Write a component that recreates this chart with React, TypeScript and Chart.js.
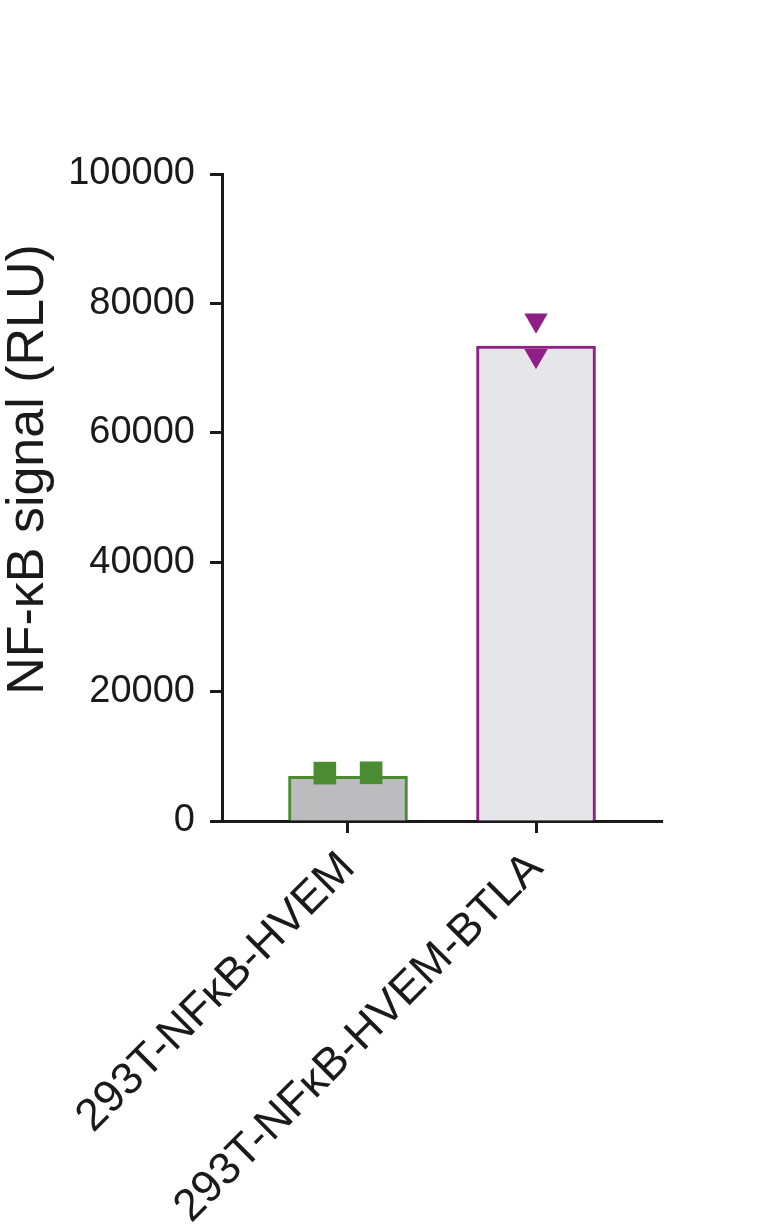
import React, { useEffect, useRef } from 'react';
import { Chart, registerables } from 'chart.js';

Chart.register(...registerables);

// categories and values
const categories = ['293T-NFκB-HVEM', '293T-NFκB-HVEM-BTLA'];
const barMeans = [6900, 73400];
const hvemReplicates = [7400, 7450];
const btlaReplicates = [77400, 71900];
const hvemJitter = [-0.123, 0.123];
const btlaJitter = [0, 0];
const yTicks = [0, 20000, 40000, 60000, 80000, 100000];
const yTitle = 'NF-κB signal (RLU)';

const FONT = "'Liberation Sans', Arial, Helvetica, sans-serif";
const INK = '#1a1a1a';
const GREEN = '#4b8c32';
const PURPLE = '#8f1f87';

// y title sits a bit above the axis centre in the original, so draw it by hand
const yTitlePlugin = {
  id: 'yTitle',
  afterDraw(chart: any) {
    const { ctx, chartArea } = chart;
    const cy = (chartArea.top + chartArea.bottom) / 2 - 28;
    ctx.save();
    ctx.translate(chartArea.left - 179, cy);
    ctx.rotate(-Math.PI / 2);
    ctx.font = `52px ${FONT}`;
    ctx.fillStyle = INK;
    ctx.textAlign = 'center';
    ctx.textBaseline = 'alphabetic';
    ctx.fillText(yTitle, 0, 0);
    ctx.restore();
  },
};

const App = () => {
  const canvasRef = useRef<HTMLCanvasElement>(null);

  useEffect(() => {
    document.body.style.margin = '0';
    const ctx = canvasRef.current?.getContext('2d');
    if (!ctx) return;

    const chart = new Chart(ctx, {
      type: 'bar',
      data: {
        datasets: [
          {
            type: 'scatter',
            label: categories[0],
            data: hvemReplicates.map((y, i) => ({ x: 0 + hvemJitter[i], y })),
            pointStyle: 'rect',
            pointRadius: 16,
            pointBackgroundColor: GREEN,
            pointBorderColor: GREEN,
            pointBorderWidth: 0,
            order: 1,
          },
          {
            type: 'scatter',
            label: categories[1],
            data: btlaReplicates.map((y, i) => ({ x: 1 + btlaJitter[i], y })),
            pointStyle: 'triangle',
            rotation: 180,
            pointRadius: 13.5,
            pointBackgroundColor: PURPLE,
            pointBorderColor: PURPLE,
            pointBorderWidth: 0,
            order: 1,
          },
          {
            type: 'bar',
            label: 'mean',
            data: barMeans.map((y, i) => ({ x: i, y })),
            backgroundColor: ['#bcbbbd', '#e6e5e7'],
            borderColor: [GREEN, PURPLE],
            borderWidth: 3,
            borderSkipped: 'start',
            barThickness: 119,
            order: 2,
          },
        ],
      } as any,
      options: {
        responsive: false,
        animation: false,
        layout: { padding: { top: 174, right: 109, left: 0, bottom: 0 } },
        plugins: {
          legend: { display: false },
          tooltip: { enabled: false },
        },
        scales: {
          x: {
            type: 'linear',
            min: -0.67,
            max: 1.67,
            offset: false,
            afterBuildTicks: (scale: any) => {
              scale.ticks = categories.map((_, i) => ({ value: i }));
            },
            afterFit: (scale: any) => {
              scale.height = 1225 - 821;
            },
            grid: {
              display: true,
              offset: false,
              drawOnChartArea: false,
              drawTicks: true,
              tickLength: 12,
              tickWidth: 3,
              tickColor: INK,
            },
            border: { display: true, color: INK, width: 3 },
            ticks: {
              autoSkip: false,
              minRotation: 45,
              maxRotation: 45,
              padding: 9,
              color: INK,
              font: { family: FONT, size: 45 },
              callback: (v: any) => categories[Number(v)] ?? '',
            },
          },
          y: {
            type: 'linear',
            min: 0,
            max: 100000,
            afterBuildTicks: (scale: any) => {
              scale.ticks = yTicks.map((value) => ({ value }));
            },
            afterFit: (scale: any) => {
              scale.width = 222;
            },
            grid: {
              display: true,
              drawOnChartArea: false,
              drawTicks: true,
              tickLength: 12,
              tickWidth: 3,
              tickColor: INK,
            },
            border: { display: true, color: INK, width: 3 },
            ticks: {
              padding: 15,
              color: INK,
              font: { family: FONT, size: 38 },
              callback: (v: any) => String(v),
            },
          },
        },
      },
      plugins: [yTitlePlugin],
    });

    return () => {
      chart.destroy();
    };
  }, []);

  return (
    <div style={{ position: 'relative', width: 771, height: 1225, background: '#fff' }}>
      <canvas ref={canvasRef} width={771} height={1225} style={{ width: 771, height: 1225 }} />
    </div>
  );
};

export default App;
